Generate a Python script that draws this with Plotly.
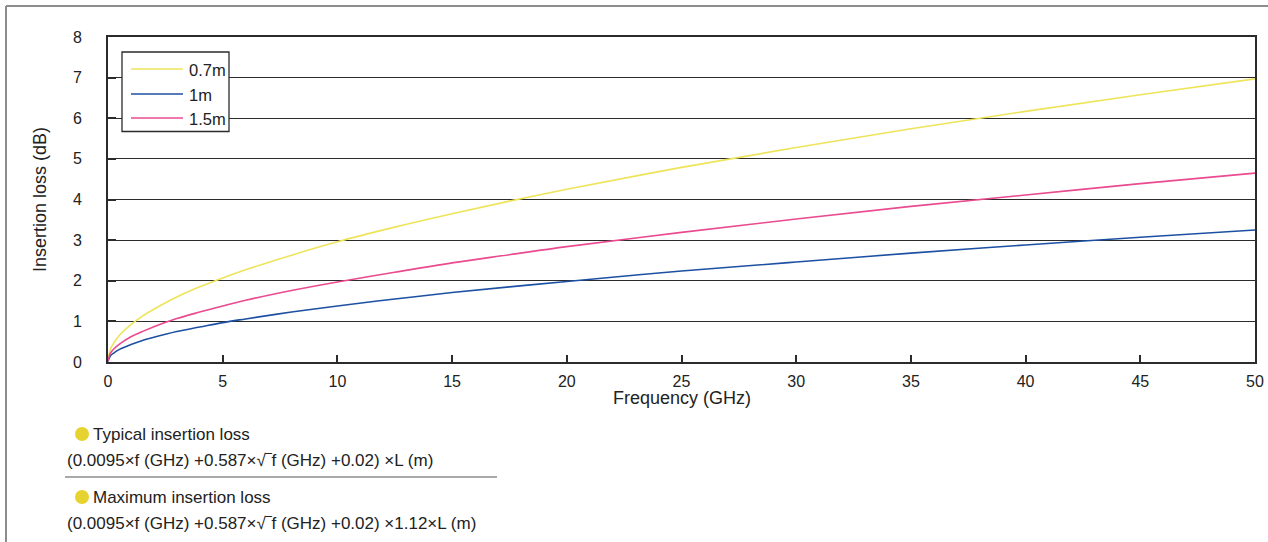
import plotly.graph_objects as go

# Data
freq_ghz = [0, 0.1, 0.25, 0.5, 1, 1.5, 2, 3, 4, 5, 6, 8, 10, 12.5, 15, 17.5, 20, 25, 30, 35, 40, 45, 50]
loss_07m = [0.03, 0.31, 0.47, 0.66, 0.92, 1.13, 1.30, 1.60, 1.85, 2.07, 2.27, 2.63, 2.96, 3.32, 3.65, 3.96, 4.25, 4.79, 5.28, 5.74, 6.17, 6.58, 6.97]
loss_1m = [0.01, 0.15, 0.22, 0.31, 0.43, 0.53, 0.61, 0.75, 0.86, 0.97, 1.06, 1.23, 1.38, 1.55, 1.71, 1.85, 1.98, 2.24, 2.46, 2.68, 2.88, 3.07, 3.25]
loss_15m = [0.02, 0.21, 0.32, 0.44, 0.62, 0.75, 0.87, 1.07, 1.23, 1.38, 1.52, 1.76, 1.97, 2.21, 2.44, 2.64, 2.84, 3.19, 3.52, 3.83, 4.11, 4.39, 4.65]

series_names = ["0.7m", "1m", "1.5m"]
series_values = [loss_07m, loss_1m, loss_15m]
series_colors = ["#eee45a", "#1d50a2", "#ea4a90"]

x_ticks = [0, 5, 10, 15, 20, 25, 30, 35, 40, 45, 50]
y_ticks = [0, 1, 2, 3, 4, 5, 6, 7, 8]

FONT = "Liberation Sans, Arial, Helvetica, sans-serif"
DARK = "#2b2b2b"

fig = go.Figure()
for name, vals, col in zip(series_names, series_values, series_colors):
    fig.add_trace(go.Scatter(x=freq_ghz, y=vals, mode="lines", name=name,
                             line=dict(color=col, width=1.6, shape="spline"),
                             showlegend=False))

W, H = 1268, 542
L, R, T, B = 108, 13, 37, 180
pw, ph = W - L - R, H - T - B

def px(x):
    return (x - L) / pw

def py(y):
    return (H - B - y) / ph

shapes = []
annotations = []

# outer frame (top and left)
shapes.append(dict(type="line", xref="paper", yref="paper", x0=px(6), x1=px(W + 5), y0=py(6), y1=py(6),
                   line=dict(color="#8c8c8c", width=2)))
shapes.append(dict(type="line", xref="paper", yref="paper", x0=px(6), x1=px(6), y0=py(6), y1=py(H + 5),
                   line=dict(color="#8c8c8c", width=2)))

# legend box
shapes.append(dict(type="rect", xref="paper", yref="paper", x0=px(122), x1=px(229), y0=py(131.5), y1=py(52),
                   fillcolor="white", line=dict(color=DARK, width=1.3), layer="above"))
leg_y = [69, 94, 118]
for name, col, yy in zip(series_names, series_colors, leg_y):
    shapes.append(dict(type="line", xref="paper", yref="paper", x0=px(131), x1=px(183), y0=py(yy), y1=py(yy),
                       line=dict(color=col, width=1.6), layer="above"))
    annotations.append(dict(xref="paper", yref="paper", x=px(187), y=py(yy + 1), xanchor="left", yanchor="middle",
                            text=name, showarrow=False, font=dict(family=FONT, size=16.5, color="#222")))

# x-axis title
annotations.append(dict(xref="paper", yref="paper", x=px(682), y=py(398), xanchor="center", yanchor="middle",
                        text="Frequency (GHz)", showarrow=False, font=dict(family=FONT, size=18, color="#222")))

# formula notes
notes = [
    (91, 434, "Typical insertion loss"),
    (65, 461, "(0.0095×f (GHz) +0.587×√‾f (GHz) +0.02) ×L (m)"),
    (91, 497, "Maximum insertion loss"),
    (65, 523, "(0.0095×f (GHz) +0.587×√‾f (GHz) +0.02) ×1.12×L (m)"),
]
for xx, yy, txt in notes:
    annotations.append(dict(xref="paper", yref="paper", x=px(xx), y=py(yy), xanchor="left", yanchor="middle",
                            text=txt, showarrow=False, font=dict(family=FONT, size=17, color="#222")))
for cy in (434, 497):
    shapes.append(dict(type="circle", xref="paper", yref="paper", x0=px(75), x1=px(89), y0=py(cy + 7), y1=py(cy - 7),
                       fillcolor="#e6d330", line=dict(width=0)))
shapes.append(dict(type="line", xref="paper", yref="paper", x0=px(65), x1=px(497), y0=py(477), y1=py(477),
                   line=dict(color="#8c8c8c", width=1.5)))

fig.update_layout(
    width=W, height=H,
    margin=dict(l=L, r=R, t=T, b=B, autoexpand=False),
    paper_bgcolor="white", plot_bgcolor="white",
    font=dict(family=FONT, size=16, color="#222"),
    shapes=shapes, annotations=annotations,
)
fig.update_xaxes(range=[0, 50], tickvals=x_ticks, ticktext=[str(v) for v in x_ticks],
                 showgrid=False, zeroline=False, automargin=False,
                 showline=True, mirror=True, linecolor=DARK, linewidth=2,
                 ticks="inside", ticklen=7, tickwidth=1.5, tickcolor=DARK,
                 ticklabelstandoff=4)
fig.update_yaxes(range=[0, 8], tickvals=y_ticks, ticktext=[str(v) for v in y_ticks],
                 showgrid=True, gridcolor=DARK, gridwidth=1, zeroline=False, automargin=False,
                 showline=True, mirror=True, linecolor=DARK, linewidth=2,
                 ticks="inside", ticklen=8, tickwidth=2, tickcolor=DARK,
                 ticklabelstandoff=21,
                 title=dict(text="Insertion loss (dB)", font=dict(size=18, family=FONT, color="#222"), standoff=22))

fig.write_html("out.html")
